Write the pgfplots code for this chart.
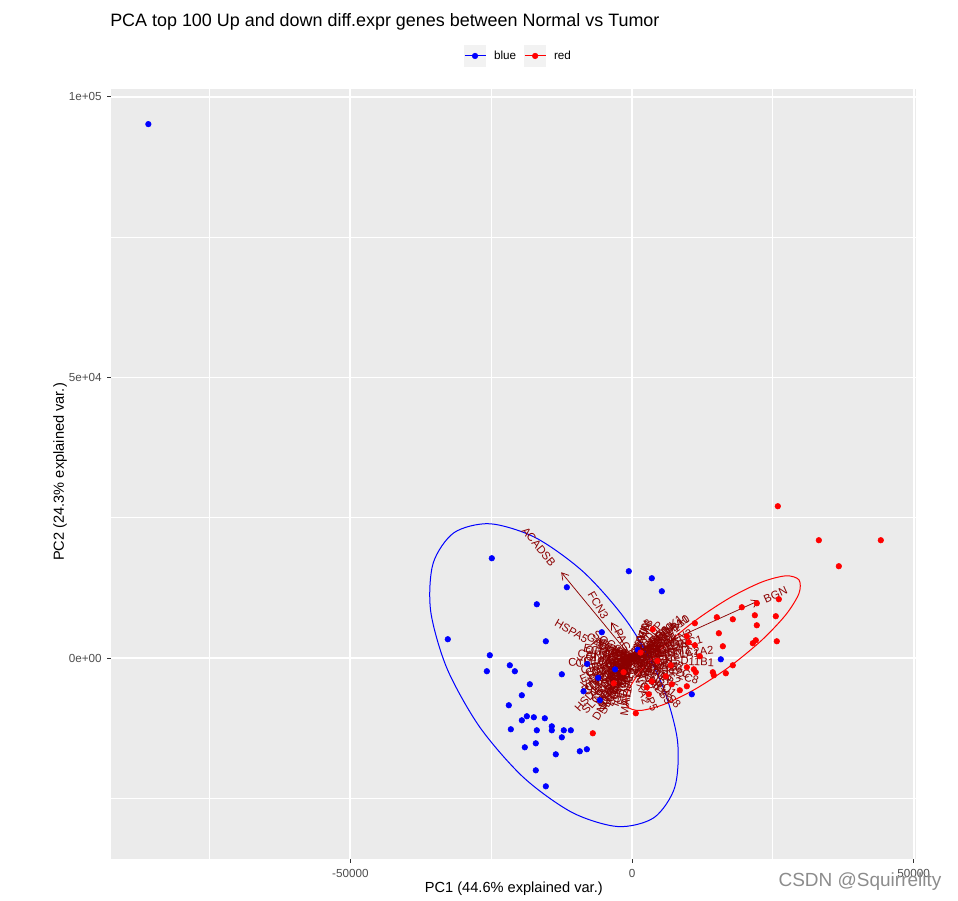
\documentclass[border=0pt]{standalone}
\usepackage{fontspec}
\setmainfont{Liberation Sans}
\usepackage{pgfplots}
\pgfplotsset{compat=1.18}
\usetikzlibrary{arrows.meta}
\definecolor{bgc}{HTML}{EBEBEB}
\definecolor{dred}{HTML}{8B0000}
\definecolor{tickc}{HTML}{4D4D4D}
\definecolor{keyc}{HTML}{F2F2F2}
\newcommand{\labfont}{\fontsize{8.5}{10}\selectfont}
\newcommand{\arr}[2]{\addplot[dred, line width=0.55bp, -{Straight Barb[length=5bp,width=6bp]}, forget plot] coordinates {(0,0) (#1,#2)};}
\newcommand{\lab}[4]{\node[text=dred, rotate=#3, font=\labfont, inner sep=0pt] at (axis cs:#1,#2) {#4};}
\begin{document}
\begin{tikzpicture}[x=0.75bp,y=0.75bp]
\useasboundingbox (-111,-42) rectangle (847,859);
\begin{axis}[
  at={(0,0)}, anchor=south west, scale only axis,
  width=603.75bp, height=577.5bp,
  xmin=-92480, xmax=50410, ymin=-35780, ymax=101400,
  scaled ticks=false,
  axis background/.style={fill=bgc},
  axis line style={draw=none},
  xtick={-50000,0,50000}, xticklabels={-50000,0,50000},
  ytick={0,50000,100000}, yticklabels={0e+00,5e+04,1e+05},
  minor xtick={-75000,-25000,25000}, minor ytick={-25000,25000,75000},
  grid=both,
  major grid style={white, line width=1.4bp},
  minor grid style={white, line width=0.7bp},
  tick align=outside, xtick pos=left, ytick pos=left,
  major tick length=2.75bp, minor tick length=0pt,
  tick style={black!80, line width=0.75bp},
  ticklabel style={font=\fontsize{8.8}{10}\selectfont, text=tickc, inner sep=0pt},
  xticklabel style={anchor=north, yshift=-4.5bp},
  yticklabel style={anchor=east, xshift=-4bp},
  legend style={at={(0.4385,1.0429)}, anchor=west, draw=none, fill=none,
    inner sep=0pt, outer sep=0pt, legend columns=-1,
    font=\fontsize{8.8}{10}\selectfont, nodes={inner sep=0pt},
    /tikz/every odd column/.append style={column sep=6bp},
    /tikz/every even column/.append style={column sep=6bp},
    cells={anchor=west}},
  legend image code/.code={
    \fill[keyc] (0bp,-7.9bp) rectangle (15.75bp,7.9bp);
    \draw[#1, line width=0.75bp] (0bp,0bp) -- (15.75bp,0bp);
    \draw[#1] plot coordinates {(7.9bp,0bp)};},
]
% loading arrows
\arr{-12567}{15307}
\arr{-3692}{6397}
\arr{-6035}{3297}
\arr{-3195}{1604}
\arr{-4793}{392}
\arr{-3994}{-3600}
\arr{-2308}{-3493}
\arr{-604}{-4455}
\arr{22507}{10247}
\arr{5148}{3707}
\arr{4970}{1426}
\arr{7100}{624}
\arr{6745}{-356}
\arr{5325}{-1871}
\arr{4260}{-4455}
\arr{-3550}{-891}
\arr{-3195}{-2495}
\arr{-2485}{-3920}
\arr{-3905}{713}
\arr{-2130}{-1426}
\arr{-1420}{-2851}
\arr{-4260}{-1782}
\arr{-1775}{356}
\arr{-2840}{-713}
\arr{-1065}{-1782}
\arr{-3550}{-3208}
\arr{-2485}{1069}
\arr{-3905}{-4277}
\arr{-710}{-3208}
\arr{-4615}{-356}
\arr{-1775}{-3564}
\arr{3550}{1782}
\arr{4260}{1069}
\arr{3195}{-713}
\arr{3905}{2851}
\arr{2485}{2138}
\arr{4615}{-1426}
\arr{2130}{-2138}
\arr{2840}{356}
\arr{4970}{2138}
\arr{1775}{1069}
\arr{3195}{-2495}
\arr{5325}{356}
\arr{1420}{-3564}
\arr{4260}{3564}
\arr{1065}{2495}
\arr{-1420}{-535}
\arr{-2130}{-713}
\arr{-2663}{-1782}
\arr{-1065}{-1069}
\arr{-3195}{-1426}
\arr{-1775}{-2495}
\arr{-3550}{-356}
\arr{-1598}{713}
\arr{-2308}{-3208}
\arr{-3905}{-2138}
\arr{-710}{-1782}
\arr{-2840}{-2851}
\arr{-1953}{-3564}
\arr{-1243}{-2138}
\arr{-2485}{-356}
\arr{-888}{-535}
\arr{-4260}{-2851}
\arr{-3373}{-3920}
\arr{-355}{-2495}
\arr{-3018}{0}
\arr{-2130}{1426}
\arr{-1420}{-3920}
\arr{-533}{-1069}
\arr{-3728}{713}
\arr{-2663}{-4455}
\arr{1420}{713}
\arr{2130}{1069}
\arr{2663}{-356}
\arr{3550}{713}
\arr{1775}{-1069}
\arr{2840}{1426}
\arr{3905}{-713}
\arr{1065}{-1782}
\arr{3195}{2138}
\arr{2485}{-1426}
\arr{4260}{1782}
\arr{710}{1426}
\arr{4615}{713}
\arr{5325}{1426}
\arr{3550}{-1782}
\arr{1775}{2138}
\arr{888}{-2851}
\arr{2840}{-3208}
\arr{1420}{3208}
\arr{3905}{3208}
\arr{-533}{178}
\arr{533}{356}
\arr{-710}{-356}
\arr{888}{-535}
\arr{355}{891}
\arr{-355}{713}
\arr{1065}{178}
\arr{-1065}{356}
% scores
\addplot[only marks, mark=*, mark size=2.1bp, color=blue, mark options={draw=blue, fill=blue}] table {
x y
-85850 95140
-24890 17800
-570 15490
3510 14240
5290 11920
-11570 12630
-16900 9600
-32700 3370
-5360 4620
-15300 3010
-25240 520
-21690 -1270
-25770 -2330
-20800 -2330
-12460 -2870
-18140 -4650
-19560 -6610
-21870 -8390
-8610 -5900
-5720 -7500
-18670 -10350
-17430 -10530
-15480 -10710
-19560 -11070
-14240 -12140
-21510 -12670
-16900 -12850
-14240 -12850
-12110 -12850
-10860 -12850
-12460 -14100
-19030 -15880
-17080 -15170
-8020 -16230
-9270 -16590
-13530 -17130
-17080 -19980
-15300 -22830
10610 -6430
15760 -200
-7950 -1030
-3000 -2000
1000 1500
-6000 -3500
};
\addlegendentry{blue}
\addplot[only marks, mark=*, mark size=2.1bp, color=red, mark options={draw=red, fill=red}] table {
x y
25880 27070
33160 21010
44160 21010
36710 16380
26060 10500
22150 9780
19490 9070
15050 7290
17890 6930
21800 7640
25520 7470
22150 5860
15410 4440
16120 2120
21970 3190
21440 2660
25700 3010
17890 -1270
14340 -2510
14520 -3050
16650 -2690
3690 5150
11150 6220
9730 3900
10080 2830
11150 2300
12030 340
6890 -1270
9730 -1620
10970 -1980
11320 -2510
6000 -3230
3510 -4120
7060 -4650
2630 -5190
9730 -5010
8480 -5720
2980 -6430
670 -9820
-6960 -13380
-3230 -4470
1500 1000
4500 -500
-1500 -2500
};
\addlegendentry{red}
% ellipses
\addplot[blue, line width=0.75bp, smooth cycle, forget plot] coordinates {
(3914,-28401) (7609,-22936) (8037,-14440) (5133,-4207) (-661,6205) (-8463,15211) (-17085,21440) (-25215,23944) (-31614,22341) (-35309,16876) (-35737,8380) (-32833,-1853) (-27039,-12265) (-19237,-21271) (-10615,-27500) (-2485,-30004)};
\addplot[red, line width=0.75bp, smooth cycle, forget plot] coordinates {
(29631,13954) (27309,14667) (23019,13553) (17414,10784) (11349,6779) (5746,2150) (1459,-2399) (-861,-6177) (-859,-8606) (1463,-9319) (5753,-8205) (11358,-5436) (17423,-1431) (23026,3198) (27313,7747) (29633,11525)};
% labels
\lab{-16543}{19869}{-51}{ACADSB}
\lab{-6000}{9480}{-60}{FCN3}
\lab{-10739}{4847}{-30}{HSPA5}
\lab{-4704}{2352}{-27}{GABRD}
\lab{-7011}{570}{-5}{CAP2}
\lab{-6479}{-5524}{48}{HSD17B13}
\lab{-3461}{-5667}{58}{IGFALS}
\lab{-976}{-7128}{82}{MAT1A}
\lab{25471}{11262}{24.5}{BGN}
\lab{7189}{5382}{33}{PDAA1}
\lab{7899}{2352}{16}{CD24}
\lab{10739}{1105}{6}{SLC2A2}
\lab{10206}{-588}{-3}{HSD11B1}
\lab{8076}{-2816}{-19}{CYP2C8}
\lab{6479}{-6736}{-46}{GAS8}
\lab{-5680}{-1426}{14}{CRHBP}
\lab{-5325}{-3920}{38}{CLEC1B}
\lab{-3905}{-6415}{57}{STAB2}
\lab{-6035}{1069}{-10}{OIT3}
\lab{-4970}{-3208}{34}{MT1M}
\lab{-2485}{-5346}{63}{GHR}
\lab{-6745}{-2851}{23}{ESR1}
\lab{-3905}{535}{-8}{C7}
\lab{-5325}{-1247}{14}{PZP}
\lab{-2130}{-3920}{59}{LCAT}
\lab{-5325}{-4990}{42}{APOF}
\lab{-4615}{1782}{-23}{ADH4}
\lab{-5680}{-6415}{48}{SLC22A1}
\lab{-1420}{-5702}{77}{FOSB}
\lab{-7455}{-535}{4}{CYP1A2}
\lab{-2840}{-6059}{63}{EGR1}
\lab{5680}{2851}{27}{SPP1}
\lab{6745}{1604}{14}{TOP2A}
\lab{5680}{-1247}{-13}{PEG10}
\lab{6390}{4633}{36}{AKR1B10}
\lab{4260}{3564}{40}{GPC3}
\lab{7100}{-2138}{-17}{UBE2C}
\lab{3550}{-3920}{-48}{CCNB1}
\lab{5325}{713}{7}{PRC1}
\lab{7455}{3208}{23}{CDKN3}
\lab{3905}{2317}{31}{NQO1}
\lab{4970}{-4277}{-41}{ROBO1}
\lab{8165}{535}{4}{COL1A1}
\lab{2485}{-5702}{-66}{DLGAP5}
\lab{6035}{4990}{40}{SPINK1}
\lab{2130}{4633}{65}{TFF3}
\lab{-3550}{-1337}{21}{CXCL14}
\lab{-4615}{-1604}{19}{CYP2B6}
\lab{-4970}{-3386}{34}{CYP3A4}
\lab{-3195}{-3208}{45}{CYP2E1}
\lab{-5325}{-2317}{24}{HAO2}
\lab{-3195}{-4455}{54}{CNDP1}
\lab{-6035}{-535}{5}{CLEC4G}
\lab{-3550}{1604}{-24}{FCN2}
\lab{-3905}{-5346}{54}{MARCO}
\lab{-6390}{-3564}{29}{VIPR1}
\lab{-1598}{-4277}{69}{LYVE1}
\lab{-4615}{-4633}{45}{GLS2}
\lab{-3195}{-5881}{61}{SLCO1B3}
\lab{-2485}{-4277}{60}{HPX}
\lab{-4615}{-713}{9}{C9}
\lab{-2485}{-1426}{30}{F9}
\lab{-6035}{-4099}{34}{RDH16}
\lab{-4793}{-5702}{49}{NAT2}
\lab{-710}{-4990}{82}{ADH1B}
\lab{-5325}{178}{-2}{GNMT}
\lab{-3905}{2495}{-33}{SOCS2}
\lab{-2308}{-6415}{70}{IGF1}
\lab{-1420}{-2851}{63}{TAT}
\lab{-5858}{1247}{-12}{ECM1}
\lab{-3905}{-6593}{59}{DNASE1L3}
\lab{3195}{1604}{27}{MDK}
\lab{4260}{2138}{27}{CDC20}
\lab{4970}{-713}{-8}{BIRC5}
\lab{6035}{1247}{12}{MKI67}
\lab{3905}{-2317}{-31}{KIF20A}
\lab{4970}{2495}{27}{ASPM}
\lab{6390}{-1069}{-10}{RRM2}
\lab{2130}{-3564}{-59}{TPX2}
\lab{4970}{3386}{34}{NUSAP1}
\lab{4260}{-2495}{-30}{HMMR}
\lab{6390}{2673}{23}{PBK}
\lab{1775}{3208}{61}{FOXM1}
\lab{7455}{1069}{8}{MCM2}
\lab{8520}{2317}{15}{CTHRC1}
\lab{5680}{-2851}{-27}{THBS2}
\lab{3195}{3920}{50}{S100P}
\lab{1598}{-4990}{-72}{ANXA2}
\lab{4260}{-4990}{-49}{LGALS3}
\lab{2130}{4990}{67}{VIM}
\lab{5680}{4633}{39}{H19}
\lab{-2130}{535}{-14}{MT1X}
\lab{2130}{1069}{27}{MT1G}
\lab{-2130}{-891}{23}{MT1H}
\lab{2485}{-1247}{-27}{CD5L}
\lab{1065}{2495}{67}{ANXA10}
\lab{-1065}{2138}{-63}{PAGE4}
\lab{2840}{356}{7}{ROBO4}
\lab{-2840}{891}{-17}{SFRP1}
\end{axis}
\node[anchor=base west, inner sep=0pt, font=\fontsize{13.5}{15}\selectfont] at (-1,832.3) {PCA top 100 Up and down diff.expr genes between Normal vs Tumor};
\node[anchor=base, font=\fontsize{11}{13}\selectfont] at (402.8,-33.3) {PC1 (44.6\% explained var.)};
\node[rotate=90, anchor=center, font=\fontsize{11}{13}\selectfont] at (-51,387) {PC2 (24.3\% explained var.)};
\node[anchor=center, font=\fontsize{14.3}{16}\selectfont, text=black!45] at (749,-23) {CSDN @Squirrelity};
\end{tikzpicture}
\end{document}
